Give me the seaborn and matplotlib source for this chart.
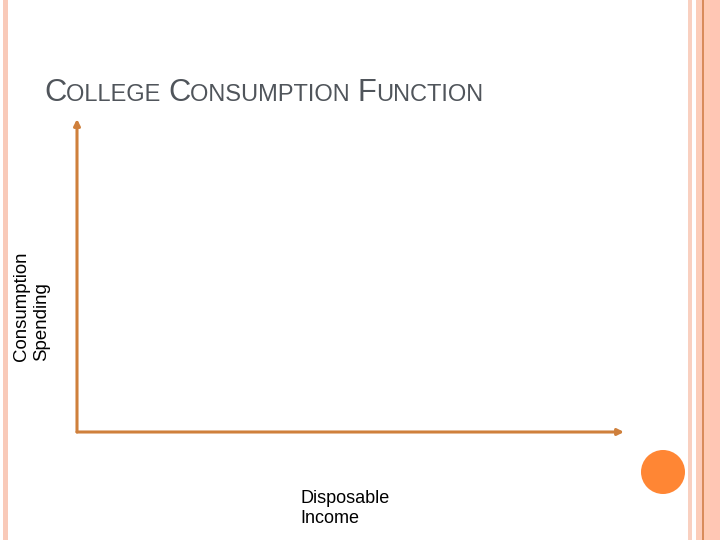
import matplotlib
matplotlib.use("Agg")
import matplotlib.pyplot as plt
import seaborn as sns
from matplotlib.patches import Rectangle, Circle

# slide content
title_parts = [("C", "big"), ("OLLEGE ", "small"), ("C", "big"),
               ("ONSUMPTION ", "small"), ("F", "big"), ("UNCTION", "small")]
y_label = "Consumption\nSpending"
x_label = "Disposable\nIncome"

# decoration: vertical strips (x0, x1, colour) in slide pixels
strips = [(3, 8, "#F9CAB9"), (688, 692, "#F9D0C0"), (696, 702, "#FCCDB9"),
          (702, 703.5, "#D98D5A"), (703.5, 710, "#FFCBB3"), (710, 720, "#FFC6B4")]
dot_center = (663, 472)
dot_radius = 22

axis_color = "#CF803C"
title_color = "#50555B"

sns.set_theme(style="white")
plt.rcParams["font.family"] = ["Liberation Sans", "DejaVu Sans"]

W, H = 720, 540
fig = plt.figure(figsize=(7.2, 5.4), dpi=100)
fig.patch.set_facecolor("white")

# background overlay in pixel coordinates
bg = fig.add_axes([0, 0, 1, 1])
bg.set_xlim(0, W)
bg.set_ylim(H, 0)
bg.axis("off")
for x0, x1, c in strips:
    bg.add_patch(Rectangle((x0, 0), x1 - x0, H, color=c, lw=0))
bg.add_patch(Circle(dot_center, dot_radius, color="#FF8634", lw=0))

# the (empty) diagram axes
left, right, top, bottom = 77, 624, 119, 432
ax = fig.add_axes([left / W, (H - bottom) / H, (right - left) / W, (bottom - top) / H])
ax.set_xlim(0, 1)
ax.set_ylim(0, 1)
ax.axis("off")
arrow = dict(arrowstyle="-|>", color=axis_color, lw=2.2, mutation_scale=9,
             shrinkA=0, shrinkB=0)
ax.annotate("", xy=(1, 0), xytext=(0, 0), xycoords="axes fraction", arrowprops=arrow)
ax.annotate("", xy=(0, 1), xytext=(0, 0), xycoords="axes fraction", arrowprops=arrow)

# small-caps title
renderer = fig.canvas.get_renderer()
x = 44
for txt, kind in title_parts:
    size = 22.2 if kind == "big" else 17
    t = fig.text(x / W, (H - 101) / H, txt, fontsize=size, color=title_color,
                 ha="left", va="baseline")
    bb = t.get_window_extent(renderer)
    x += bb.width + (1 if kind == "small" else 0)

fig.text(13 / W, (H - 361) / H, y_label, rotation=90, fontsize=13.4, color="black",
         ha="left", va="bottom", linespacing=1.2)
fig.text(300 / W, (H - 527) / H, x_label, fontsize=13, color="black",
         ha="left", va="bottom", linespacing=1.25)

fig.savefig("out.png", dpi=100, facecolor="white")
